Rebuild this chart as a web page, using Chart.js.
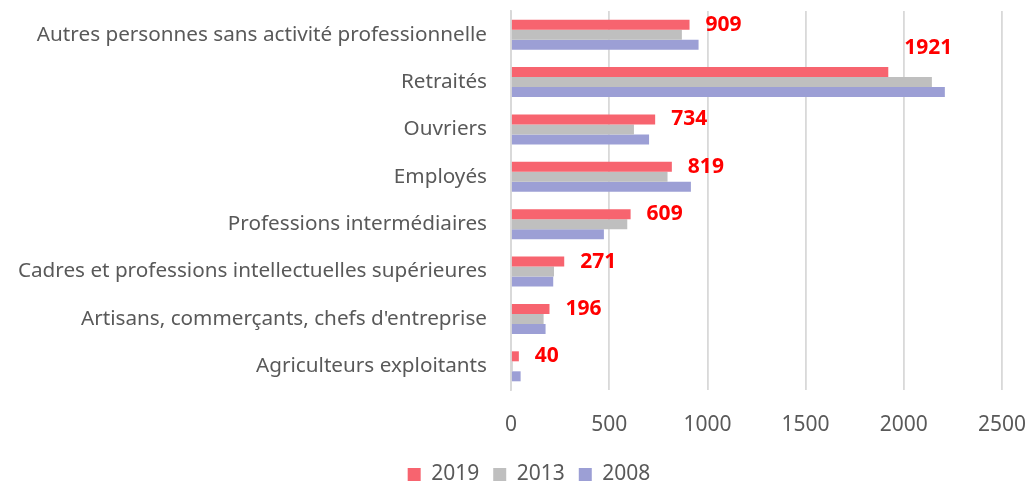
<!DOCTYPE html>
<html>
<head>
<meta charset="utf-8">
<script src="https://cdn.jsdelivr.net/npm/chart.js@4.4.0/dist/chart.umd.min.js"></script>
<style>
  html, body { margin: 0; padding: 0; background: #fff; overflow: hidden; }
  #wrap { width: 1029px; height: 495px; }
</style>
</head>
<body>
<div id="wrap"><canvas id="chart" width="1029" height="495"></canvas></div>
<script>
// Categories, top to bottom
const categories = [
    'Autres personnes sans activité professionnelle',
    'Retraités',
    'Ouvriers',
    'Employés',
    'Professions intermédiaires',
    'Cadres et professions intellectuelles supérieures',
    "Artisans, commerçants, chefs d'entreprise",
    'Agriculteurs exploitants'
];

const values2019 = [909, 1921, 734, 819, 609, 271, 196, 40];
const values2013 = [870, 2143, 626, 797, 592, 219, 166, 8];
const values2008 = [955, 2209, 703, 916, 473, 215, 176, 49];

const seriesNames = ['2019', '2013', '2008'];
const xTicks = [0, 500, 1000, 1500, 2000, 2500];

const FONT = "'Noto Sans', 'Open Sans', sans-serif";
const textColor = '#595959';

// Red labels next to the 2019 bars; lifted above the group when the 2013 bar is in the way
const valueLabels = {
    id: 'valueLabels',
    afterLayout(chart) {
        // the y labels run into the left padding, so don't clip them there
        chart.scales.y.left = 0;
    },
    afterDatasetsDraw(chart) {
        const ctx = chart.ctx;
        const meta = chart.getDatasetMeta(0);
        const next = chart.getDatasetMeta(1);
        ctx.save();
        ctx.font = 'bold 21px ' + FONT;
        ctx.fillStyle = '#FF0000';
        ctx.textAlign = 'left';
        ctx.textBaseline = 'middle';
        meta.data.forEach((bar, i) => {
            const text = String(values2019[i]);
            const x = bar.x + 16;
            if (next.data[i].x > x) {
                ctx.fillText(text, x, bar.y - bar.height / 2 - 19);
            } else {
                ctx.fillText(text, x, bar.y);
            }
        });
        ctx.restore();
    }
};

new Chart(document.getElementById('chart'), {
    type: 'bar',
    data: {
        labels: categories,
        datasets: [
            { label: seriesNames[0], data: values2019, backgroundColor: '#F7646F' },
            { label: seriesNames[1], data: values2013, backgroundColor: '#BFBFBF' },
            { label: seriesNames[2], data: values2008, backgroundColor: '#9C9FD5' }
        ]
    },
    options: {
        indexAxis: 'y',
        responsive: false,
        animation: false,
        // left padding shifts the legend to where the original sits
        layout: { padding: { top: 11, right: 27, left: 56, bottom: 0 } },
        datasets: {
            bar: { categoryPercentage: 0.633, barPercentage: 1.0 }
        },
        scales: {
            x: {
                min: 0,
                max: 2500,
                afterBuildTicks(scale) {
                    scale.ticks = xTicks.map(v => ({ value: v }));
                },
                afterFit(scale) {
                    scale.height = 60;
                    scale.paddingLeft = 0;
                    scale.paddingRight = 0;
                },
                grid: { color: '#D9D9D9', lineWidth: 1.8, drawTicks: false },
                border: { display: false },
                ticks: {
                    color: textColor,
                    font: { family: FONT, size: 21 },
                    padding: 22.5,
                    callback: v => String(v)
                }
            },
            y: {
                afterFit(scale) {
                    scale.width = 455;
                    scale.paddingTop = 0;
                    scale.paddingBottom = 0;
                },
                grid: { display: false, drawTicks: false },
                border: { display: true, color: '#D9D9D9', width: 1.8 },
                ticks: {
                    color: textColor,
                    font: { family: FONT, size: 20.7 },
                    padding: 24
                }
            }
        },
        plugins: {
            legend: {
                position: 'bottom',
                labels: {
                    color: textColor,
                    font: { family: FONT, size: 21 },
                    boxWidth: 13,
                    boxHeight: 13,
                    padding: 14
                }
            },
            tooltip: { enabled: false }
        }
    },
    plugins: [valueLabels]
});
</script>
</body>
</html>
